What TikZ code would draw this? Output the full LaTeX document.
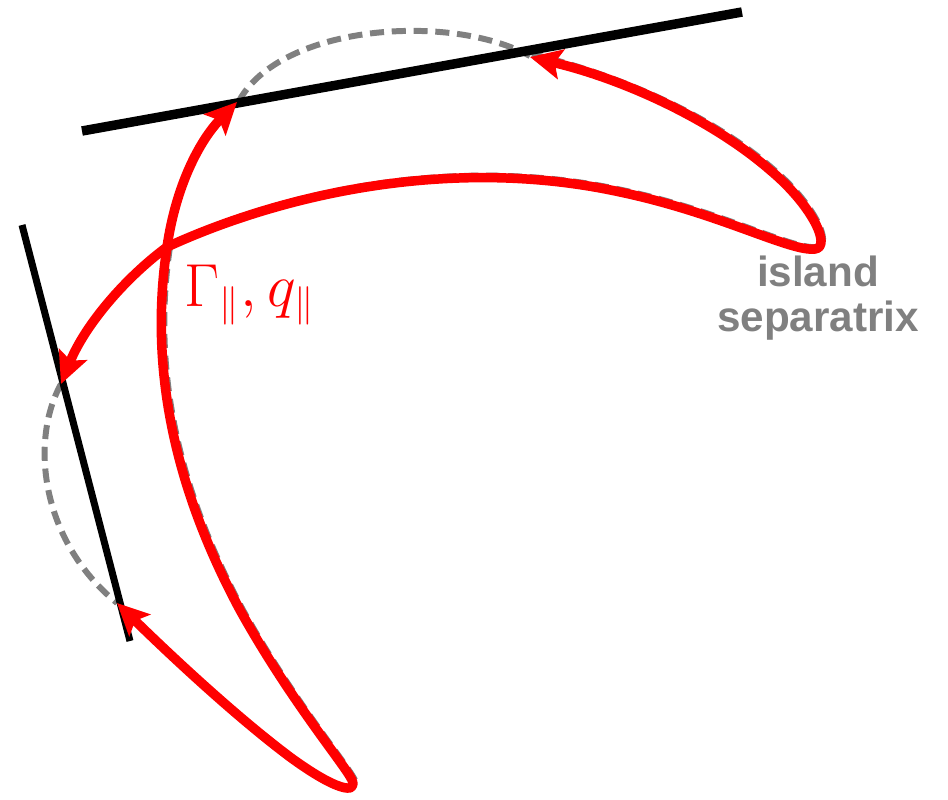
\documentclass[tikz,border=0pt]{standalone}
\usepackage{amsmath}
\usepackage{fontspec}
\setsansfont{Liberation Sans}
\usetikzlibrary{arrows.meta,calc}
\definecolor{ink}    {HTML}{000000}
\definecolor{flux}   {HTML}{FF0000}
\definecolor{sepgray}{HTML}{808080}
\tikzset{
  >={Stealth[length=9pt,width=8.5pt,inset=1.8pt]},
  % --- lines
  wall/.style  = {draw=ink, line width=2.7pt},
  wallthin/.style = {draw=ink, line width=2pt},
  sep/.style   = {draw=sepgray, line width=1.7pt, dash pattern=on 4pt off 2.2pt},
  fl/.style    = {draw=flux, line width=2.7pt, line cap=round, line join=round},
  fla/.style   = {fl, ->},
  % --- labels
  lbl/.style   = {font=\fontsize{16}{18}\selectfont, text=flux, inner sep=0pt},
  seplbl/.style= {font=\fontsize{12}{12.8}\selectfont\sffamily\bfseries, text=sepgray,
                  align=center, inner sep=0pt},
}
\begin{document}
\begin{tikzpicture}[x=0.01cm, y=-0.01cm]
  \useasboundingbox (0,0) rectangle (948,799);
  \coordinate (xpt) at (167,247);
  % separatrix, dashed
  \draw[sep] (239,101) .. controls (280,25) and (450,12) .. (530,56);
  \draw[sep] (61,384) .. controls (30,440) and (40,540) .. (117,603);
  \begin{scope}[shift={(2,-2)}]
    \draw[sep] (167,247) .. controls (280,195) and (450,155) .. (620,192)
      .. controls (720,213) and (790,252) .. (815,249)
      .. controls (832,247) and (812,205) .. (770,170)
      .. controls (710,118) and (620,78) .. (530,56);
  \end{scope}
  \begin{scope}[shift={(3,0)}]
    \draw[sep] (167,247) .. controls (150,360) and (170,480) .. (240,610)
      .. controls (290,700) and (345,765) .. (352,780);
  \end{scope}
  % walls
  \draw[wall] (82,131) coordinate (w1a) -- (742,12) coordinate (w1b);
  \draw[wallthin] (22,225) coordinate (w2a) -- (130,641) coordinate (w2b);
  % flows
  \draw[fla] (xpt) .. controls (176,185) and (200,140) .. (237,102);
  \draw[fla] (xpt) .. controls (280,195) and (450,155) .. (620,192)
    .. controls (720,213) and (790,252) .. (815,249)
    .. controls (832,247) and (812,205) .. (770,170)
    .. controls (710,118) and (620,78) .. (530,57);
  \draw[fla] (xpt) .. controls (125,278) and (85,325) .. (61,384);
  \draw[fla] (xpt) .. controls (150,360) and (170,480) .. (240,610)
    .. controls (290,700) and (345,765) .. (352,780)
    .. controls (358,795) and (335,790) .. (290,757)
    .. controls (230,712) and (160,645) .. (117,603);
  % labels
  \node[lbl] (flux) at (250,295) {$\Gamma_{\parallel}, q_{\parallel}$};
  \node[seplbl] (island) at (818,298) {island\\separatrix};
\end{tikzpicture}
\end{document}
